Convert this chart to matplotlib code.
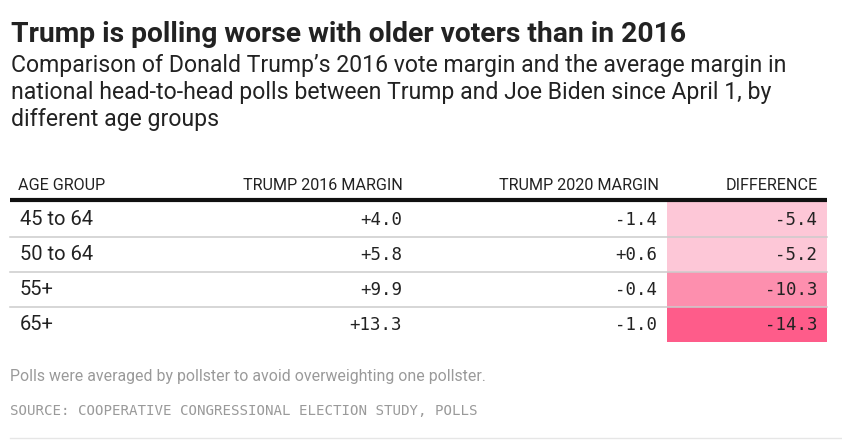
import matplotlib
matplotlib.use("Agg")
import matplotlib.pyplot as plt

# ---- data ----
age_groups = ["45 to 64", "50 to 64", "55+", "65+"]
margin_2016 = [4.0, 5.8, 9.9, 13.3]
margin_2020 = [-1.4, 0.6, -0.4, -1.0]
difference = [-5.4, -5.2, -10.3, -14.3]
col_headers = ["AGE GROUP", "TRUMP 2016 MARGIN", "TRUMP 2020 MARGIN", "DIFFERENCE"]

title = "Trump is polling worse with older voters than in 2016"
subtitle_lines = ["Comparison of Donald Trump\u2019s 2016 vote margin and the average margin in",
                  "national head-to-head polls between Trump and Joe Biden since April 1, by",
                  "different age groups"]
note = "Polls were averaged by pollster to avoid overweighting one pollster."
source = "SOURCE: COOPERATIVE CONGRESSIONAL ELECTION STUDY, POLLS"

W, H = 842, 448
fig = plt.figure(figsize=(W / 100, H / 100), dpi=100)
ax = fig.add_axes([0, 0, 1, 1])
ax.set_xlim(0, W)
ax.set_ylim(H, 0)
ax.axis("off")

sans = ["Roboto", "DejaVu Sans"]
mono = ["DejaVu Sans Mono"]

def fmt(v):
    return f"{v:+.1f}"

def diff_color(v):
    if v > -8:
        return "#fdc7d7"
    if v > -12:
        return "#fd8fae"
    return "#fe5c8a"

# title / subtitle
ax.text(11, 42, title, family=sans, weight="bold", fontsize=20.3, color="#222222", va="baseline")
for k, line in enumerate(subtitle_lines):
    ax.text(11, 72 + k * 27, line, family=sans, fontsize=16.6, color="#222222", va="baseline")

# table geometry
table_top = 201.5
row_h = 35.1
header_y = 185
x_left, x_right = 10, 827
col_right = [None, 403, 659, 818]
val_right = [None, 402, 657, 817]
diff_x0 = 667

# header
ax.text(18, header_y, col_headers[0], family=sans, fontsize=11.6, color="#222222", va="center", ha="left")
for j in range(1, 4):
    ax.text(col_right[j], header_y, col_headers[j], family=sans, fontsize=11.6,
            color="#222222", va="center", ha="right")

n = len(age_groups)
centers = [table_top + (i + 0.5) * row_h for i in range(n)]

# difference cell backgrounds
ax.barh(centers, [x_right - diff_x0] * n, left=diff_x0, height=row_h,
        color=[diff_color(v) for v in difference], edgecolor="none", zorder=1)

# separators
for i in range(1, n):
    yy = table_top + i * row_h
    ax.plot([x_left, x_right], [yy, yy], color="#cccccc", lw=1.1, zorder=2)
ax.plot([x_left, x_right], [table_top - 1, table_top - 1], color="#111111", lw=3.0,
        solid_capstyle="butt", zorder=3)

for i in range(n):
    cy = centers[i] + 0.5
    ax.text(20, cy, age_groups[i], family=sans, fontsize=14.5, color="#222222", va="center", ha="left")
    ax.text(val_right[1], cy, fmt(margin_2016[i]), family=mono, fontsize=12.5,
            color="#222222", va="center", ha="right")
    ax.text(val_right[2], cy, fmt(margin_2020[i]), family=mono, fontsize=12.5,
            color="#222222", va="center", ha="right")
    ax.text(val_right[3], cy, fmt(difference[i]), family=mono, fontsize=12.5,
            color="#222222", va="center", ha="right", zorder=4)

# footer
ax.text(10, 377, note, family=sans, fontsize=11.4, color="#9a9a9a", va="center", ha="left")
ax.text(10, 411, source, family=mono, fontsize=10.2, color="#9a9a9a", va="center", ha="left")
ax.plot([10, W], [438.5, 438.5], color="#e6e6e6", lw=1)

fig.savefig("out.png", dpi=100)
